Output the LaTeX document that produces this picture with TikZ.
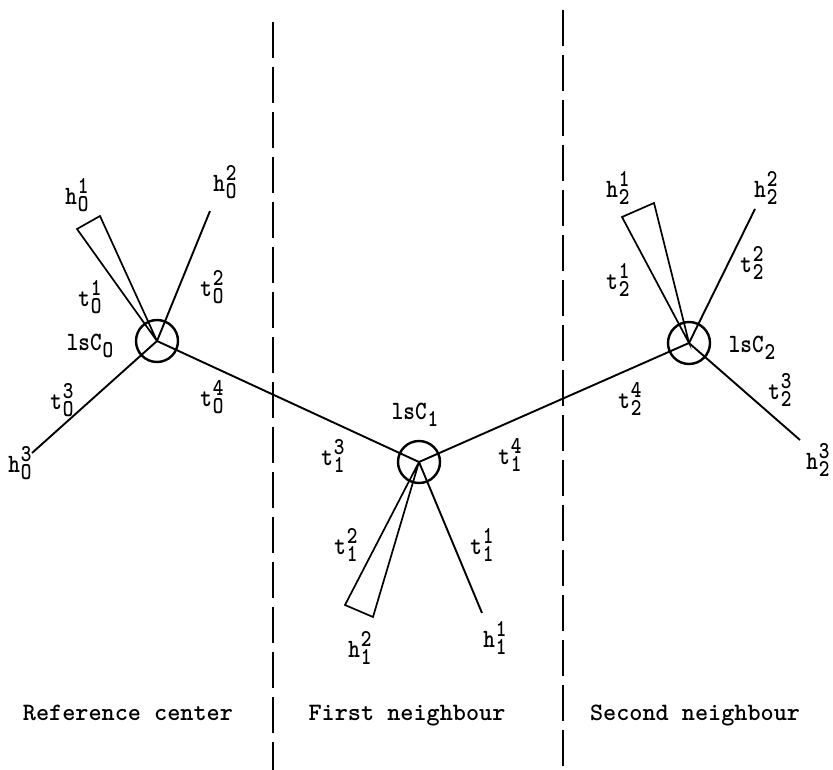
\documentclass[tikz,border=0pt]{standalone}
\newcommand\scr{\fontsize{22}{22}\selectfont}
\newcommand\lb[3]{\scalebox{0.92}[1.1]{#1\kern1pt\raisebox{-6pt}{\vbox{\offinterlineskip\hbox{\scr #3}\kern2pt\hbox{\scr #2}}}}}
\newcommand\lsc[1]{\scalebox{0.92}[1.1]{lsC\kern1pt\raisebox{-6pt}{\scr #1}}}
\tikzset{
  lab/.style={inner sep=0pt, font=\ttfamily\bfseries\fontsize{24}{24}\selectfont},
  captxt/.style={inner sep=0pt, anchor=base, font=\ttfamily\bfseries\fontsize{25}{25}\selectfont},
  ring/.style={circle, draw, line width=2.4pt, minimum size=42pt, inner sep=0pt},
  spoke/.style={line width=1.9pt},
  wedge/.style={line width=1.7pt, line join=miter},
  divider/.style={line width=1.8pt, dash pattern=on 36pt off 9pt}
}
\begin{document}
\begin{tikzpicture}[x=1pt,y=-1pt]
\useasboundingbox (0,0) rectangle (833,770);
% dividers
\coordinate (d1t) at (273,22);
\coordinate (d1b) at (273,770);
\coordinate (d2t) at (563,10);
\coordinate (d2b) at (563,770);
\draw[divider] (d1t) -- (d1b);
\draw[divider] (d2t) -- (d2b);
% centres
\node[ring] (c0) at (157,341) {};
\node[ring] (c1) at (419,462) {};
\node[ring] (c2) at (689,343) {};
% end points
\coordinate (a0) at (77,229);
\coordinate (b0) at (100,216);
\coordinate (e02) at (210,211);
\coordinate (e03) at (32,453);
\coordinate (a1) at (345,605);
\coordinate (b1) at (373,617);
\coordinate (e11) at (482,613);
\coordinate (a2) at (622,217);
\coordinate (b2) at (654,203);
\coordinate (e22) at (755,209);
\coordinate (e23) at (800,440);
% bonds
\draw[spoke] (c0.center) -- (c1.center) -- (c2.center);
\draw[wedge] (c0.center) -- (a0) -- (b0) -- cycle;
\draw[spoke] (c0.center) -- (e02);
\draw[spoke] (c0.center) -- (e03);
\draw[wedge] (c1.center) -- (a1) -- (b1) -- cycle;
\draw[spoke] (c1.center) -- (e11);
\draw[wedge] (c2.center) -- (a2) -- (b2) -- cycle;
\draw[spoke] (c2.center) -- (e22);
\draw[spoke] (c2.center) -- (e23);
% labels centre 0
\node[lab] (h01) at (77,195) {\lb{h}{O}{1}};
\node[lab] (h02) at (225,182) {\lb{h}{O}{2}};
\node[lab] (t01) at (90,297) {\lb{t}{O}{1}};
\node[lab] (t02) at (212,287) {\lb{t}{O}{2}};
\node[lab] (l0) at (90,346) {\lsc{O}};
\node[lab] (t03) at (62,400) {\lb{t}{O}{3}};
\node[lab] (h03) at (20,463) {\lb{h}{O}{3}};
\node[lab] (t04) at (212,397) {\lb{t}{O}{4}};
% labels centre 1
\node[lab] (l1) at (415,415) {\lsc{1}};
\node[lab] (t13) at (333,456) {\lb{t}{1}{3}};
\node[lab] (t14) at (510,455) {\lb{t}{1}{4}};
\node[lab] (t12) at (346,545) {\lb{t}{1}{2}};
\node[lab] (t11) at (482,545) {\lb{t}{1}{1}};
\node[lab] (h12) at (360,648) {\lb{h}{1}{2}};
\node[lab] (h11) at (495,638) {\lb{h}{1}{1}};
% labels centre 2
\node[lab] (h21) at (618,188) {\lb{h}{2}{1}};
\node[lab] (h22) at (766,188) {\lb{h}{2}{2}};
\node[lab] (t21) at (618,280) {\lb{t}{2}{1}};
\node[lab] (t22) at (752,263) {\lb{t}{2}{2}};
\node[lab] (l2) at (752,348) {\lsc{2}};
\node[lab] (t23) at (780,390) {\lb{t}{2}{3}};
\node[lab] (t24) at (630,399) {\lb{t}{2}{4}};
\node[lab] (h23) at (818,460) {\lb{h}{2}{3}};
% captions
\node[captxt] (r0) at (128,720) {Reference center};
\node[captxt] (r1) at (407,720) {First neighbour};
\node[captxt] (r2) at (695,720) {Second neighbour};
\end{tikzpicture}
\end{document}
